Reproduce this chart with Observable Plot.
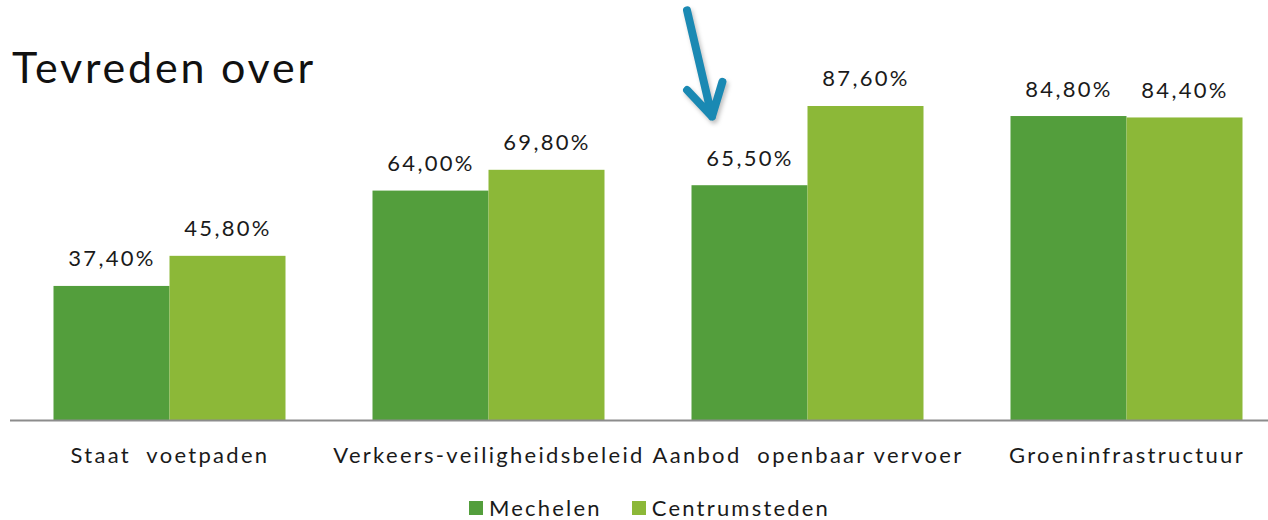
<!DOCTYPE html>
<html>
<head>
<meta charset="utf-8">
<script src="https://cdn.jsdelivr.net/npm/d3@7"></script>
<script src="https://cdn.jsdelivr.net/npm/@observablehq/plot@0.6"></script>
<style>
  html, body { margin: 0; padding: 0; background: #fff; }
  #wrap { position: relative; width: 1268px; height: 520px; overflow: hidden; font-family: Lato, sans-serif; }
  #title { position: absolute; left: 12px; top: 45px; font-size: 43px; line-height: 1; color: #111; font-weight: 400; letter-spacing: 2.8px; }
  #legend { position: absolute; top: 494px; left: 469px; display: flex; align-items: center; font-size: 22px; color: #1a1a1a; letter-spacing: 2.2px; }
  #legend .item { display: flex; align-items: center; margin-right: 30px; }
  #legend .sw { width: 14px; height: 14px; margin-right: 6px; }
  svg text { white-space: pre; letter-spacing: 2.3px; }
  g[aria-label="arrow"] { filter: drop-shadow(2px 3px 2px rgba(0,0,0,0.25)); }
</style>
</head>
<body>
<div id="wrap">
  <div id="chart"></div>
  <div id="title">Tevreden over</div>
  <div id="legend"></div>
</div>
<script>
const categories = ["Staat  voetpaden", "Verkeers-veiligheidsbeleid", "Aanbod  openbaar vervoer", "Groeninfrastructuur"];
const series = ["Mechelen", "Centrumsteden"];
const mechelen = [37.4, 64.0, 65.5, 84.8];
const centrumsteden = [45.8, 69.8, 87.6, 84.4];
const colors = ["#539E3C", "#8CB838"];
// annotation arrow (data units: series position within group, percent)
const arrowNote = [{category: "Aanbod  openbaar vervoer", x1: -0.043, y1: 114.4, x2: 0.172, y2: 84.8}];

const rows = categories.flatMap((c, i) => [
  {category: c, series: series[0], idx: 0, value: mechelen[i]},
  {category: c, series: series[1], idx: 1, value: centrumsteden[i]}
]);
const fmt = v => v.toFixed(2).replace(".", ",") + "%";

const chart = Plot.plot({
  width: 1268,
  height: 480,
  marginTop: 0,
  marginBottom: 60,
  marginLeft: 0,
  marginRight: 0,
  fx: {domain: categories, range: [9.5, 1285.5], padding: 0, label: null, tickSize: 0, tickPadding: 27},
  x: {domain: [-0.375, 2.375], axis: null},
  y: {domain: [0, 117.17], axis: null},
  color: {domain: series, range: colors},
  style: {fontFamily: "Lato, sans-serif", fontSize: "22px", color: "#1a1a1a", background: "transparent"},
  marks: [
    Plot.rect(rows, {fx: "category", x1: "idx", x2: d => d.idx + 1, y1: 0, y2: "value", fill: "series"}),
    Plot.ruleY([0], {stroke: "#8c8c8c", strokeWidth: 2}),
    Plot.text(rows, {fx: "category", x: d => d.idx + 0.5, y: "value", text: d => fmt(d.value), lineAnchor: "bottom", dy: -20, fontSize: 22, fill: "#1a1a1a"}),
    Plot.arrow(arrowNote, {fx: "category", x1: "x1", y1: "y1", x2: "x2", y2: "y2", stroke: "#1A89B3", strokeWidth: 8, headLength: 10, headAngle: 60, strokeLinecap: "round", strokeLinejoin: "round"})
  ]
});
document.getElementById("chart").appendChild(chart);

const legend = document.getElementById("legend");
series.forEach((s, i) => {
  const item = document.createElement("div");
  item.className = "item";
  const sw = document.createElement("div");
  sw.className = "sw";
  sw.style.background = colors[i];
  const lab = document.createElement("span");
  lab.textContent = s;
  item.appendChild(sw);
  item.appendChild(lab);
  legend.appendChild(item);
});
</script>
</body>
</html>
